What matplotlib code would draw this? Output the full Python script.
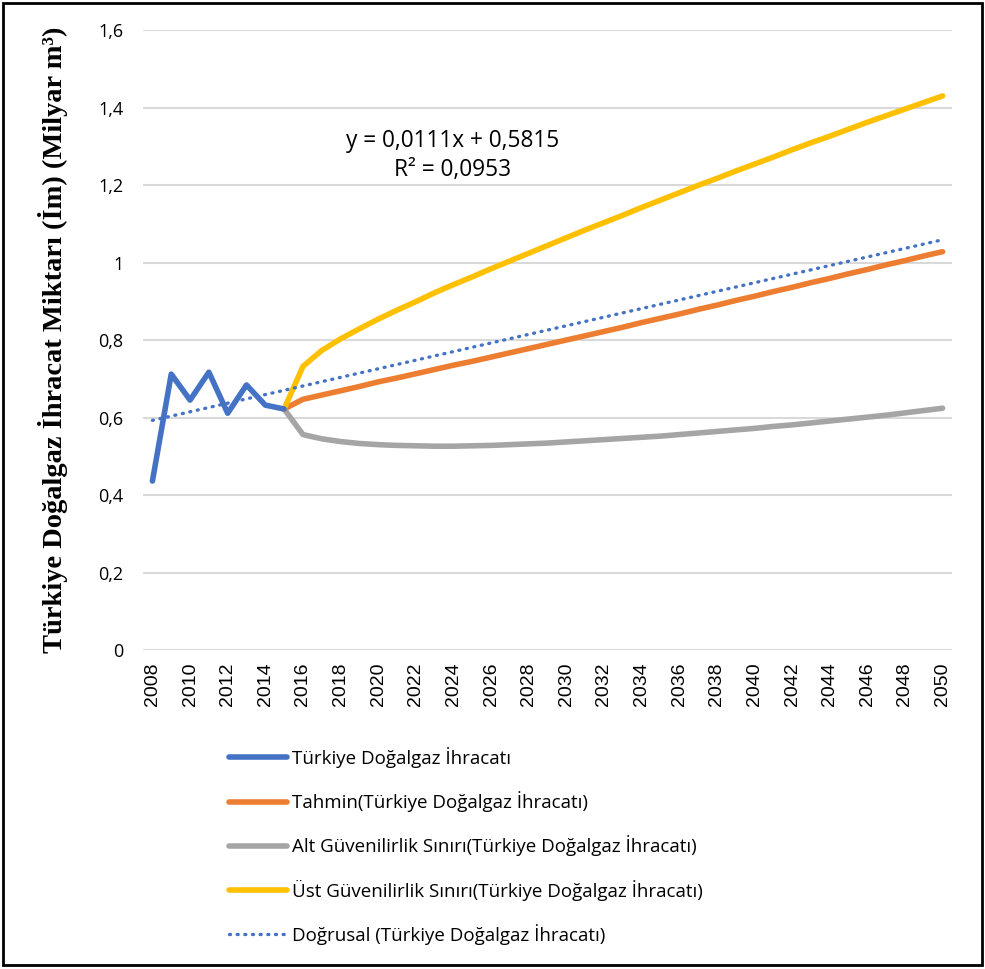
import matplotlib
matplotlib.use('Agg')
import matplotlib.pyplot as plt
from matplotlib.patches import Rectangle
import numpy as np

# historical exports 2008-2015
years_hist = list(range(2008, 2016))
ihracat = [0.436, 0.712, 0.645, 0.717, 0.611, 0.684, 0.632, 0.622]

# forecast with confidence bounds 2015-2050
years_fc = list(range(2015, 2051))
tahmin = [0.622, 0.647, 0.658, 0.669, 0.680, 0.692, 0.702, 0.713, 0.724, 0.735,
          0.745, 0.756, 0.767, 0.778, 0.789, 0.800, 0.811, 0.822, 0.833, 0.845,
          0.856, 0.867, 0.879, 0.890, 0.902, 0.913, 0.925, 0.936, 0.948, 0.959,
          0.971, 0.982, 0.994, 1.005, 1.017, 1.028]
alt_sinir = [0.622, 0.556, 0.545, 0.538, 0.533, 0.530, 0.528, 0.527, 0.526, 0.526,
             0.527, 0.528, 0.530, 0.532, 0.534, 0.537, 0.540, 0.543, 0.546, 0.549,
             0.552, 0.556, 0.560, 0.564, 0.568, 0.572, 0.577, 0.581, 0.586, 0.591,
             0.596, 0.601, 0.606, 0.612, 0.618, 0.624]
ust_sinir = [0.622, 0.732, 0.773, 0.803, 0.829, 0.854, 0.877, 0.899, 0.922, 0.943,
             0.963, 0.984, 1.004, 1.024, 1.044, 1.064, 1.084, 1.103, 1.122, 1.142,
             1.161, 1.180, 1.199, 1.217, 1.236, 1.254, 1.272, 1.291, 1.309, 1.326,
             1.344, 1.362, 1.379, 1.396, 1.413, 1.430]

# linear trend shown on the chart (x = 1 for 2008)
trend_slope = 0.0111
trend_intercept = 0.5815
r2_text = '0,0953'

years_all = list(range(2008, 2051))
y_ticks = [0, 0.2, 0.4, 0.6, 0.8, 1.0, 1.2, 1.4, 1.6]
y_ticklabels = ['0', '0,2', '0,4', '0,6', '0,8', '1', '1,2', '1,4', '1,6']

labels = ['Türkiye Doğalgaz İhracatı',
          'Tahmin(Türkiye Doğalgaz İhracatı)',
          'Alt Güvenilirlik Sınırı(Türkiye Doğalgaz İhracatı)',
          'Üst Güvenilirlik Sınırı(Türkiye Doğalgaz İhracatı)',
          'Doğrusal (Türkiye Doğalgaz İhracatı)']

fig = plt.figure(figsize=(9.85, 9.69), dpi=100)
ax = fig.add_axes([0.1452, 0.3292, 0.8213, 0.6398])

trend_x = np.array(years_all)
trend_y = trend_slope * (trend_x - 2007) + trend_intercept

lw = 4
l1, = ax.plot(years_hist, ihracat, color='#4472C4', lw=lw, solid_capstyle='round', solid_joinstyle='round', zorder=5)
l2, = ax.plot(years_fc, tahmin, color='#ED7D31', lw=lw, solid_capstyle='round', zorder=4)
l3, = ax.plot(years_fc, alt_sinir, color='#A5A5A5', lw=lw, solid_capstyle='round', zorder=3)
l4, = ax.plot(years_fc, ust_sinir, color='#FFC000', lw=lw, solid_capstyle='round', zorder=4)
l5, = ax.plot(trend_x, trend_y, color='#4472C4', lw=2.4, linestyle=(0, (0.3, 2.0)),
              dash_capstyle='round', zorder=6)

ax.set_xlim(2007.5, 2050.5)
ax.set_ylim(0, 1.6)
ax.set_yticks(y_ticks)
ax.set_yticklabels(y_ticklabels, fontsize=13, family='Open Sans')
ax.set_xticks(years_all[::2])
ax.set_xticklabels([str(y) for y in years_all[::2]], rotation=90, fontsize=14, family='Liberation Sans')
ax.tick_params(length=0, pad=14)
ax.tick_params(axis='x', pad=9)
ax.grid(axis='y', color='#D9D9D9', lw=1.5)
ax.set_axisbelow(True)
for s in ax.spines.values():
    s.set_visible(False)

ax.set_ylabel('Türkiye Doğalgaz İhracat Miktarı (İm) (Milyar m³)', family='Liberation Serif',
              fontweight='bold', fontsize=20.5)
ax.yaxis.set_label_coords(-0.093, 0.5)

ax.text(0.383, 0.798, 'y = 0,0111x + 0,5815\nR² = ' + r2_text, transform=ax.transAxes,
        ha='center', va='center', multialignment='center', fontsize=16.3, family='Open Sans',
        linespacing=1.3)

fig.legend([l1, l2, l3, l4, l5], labels, loc='upper left', bbox_to_anchor=(0.232, 0.229),
           frameon=False, prop={'family': 'Open Sans', 'size': 13.5},
           handlelength=3.1, handletextpad=0.3, labelspacing=1.24, borderpad=0, borderaxespad=0)

fig.patches.append(Rectangle((0.003, 0.004), 0.994, 0.993, transform=fig.transFigure,
                             fill=False, edgecolor='black', lw=2))

fig.savefig('out.png', dpi=100)
